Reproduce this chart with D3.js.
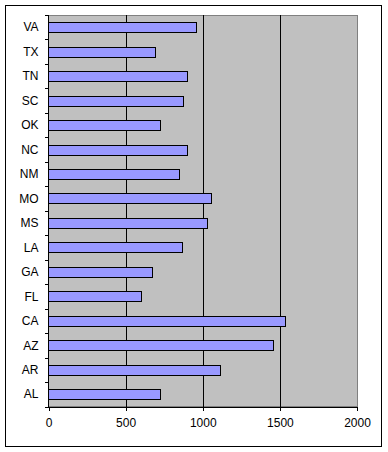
<!DOCTYPE html>
<html>
<head>
<meta charset="utf-8">
<script src="https://cdn.jsdelivr.net/npm/d3@7"></script>
<style>
  body { margin: 0; background: #fff; }
  svg text { font-family: "Liberation Sans", Arial, sans-serif; font-size: 12px; fill: #000; }
</style>
</head>
<body>
<svg id="chart"></svg>
<script>
// states top to bottom
const states = ["VA", "TX", "TN", "SC", "OK", "NC", "NM", "MO", "MS", "LA", "GA", "FL", "CA", "AZ", "AR", "AL"];
const values = [959, 691, 901, 875, 726, 901, 849, 1056, 1030, 868, 674, 603, 1539, 1457, 1114, 726];
const xTicks = [0, 500, 1000, 1500, 2000];

const width = 388, height = 452;
const margin = {top: 15, right: 31, bottom: 45.5, left: 48.5};
const drawWidth = width - margin.left - margin.right;
const drawHeight = height - margin.top - margin.bottom;

const svg = d3.select("#chart")
    .attr("width", width)
    .attr("height", height)
    .attr("shape-rendering", "crispEdges");

// outer frame
svg.append("rect")
    .attr("x", 5.5).attr("y", 5.5)
    .attr("width", 376).attr("height", 441)
    .attr("fill", "#fff")
    .attr("stroke", "#000");

const x = d3.scaleLinear().domain([0, 2000]).range([0, drawWidth]);
const y = d3.scaleBand().domain(states).range([0, drawHeight]).paddingInner(0.59).paddingOuter(0.295);
const yBands = d3.scaleBand().domain(states).range([0, drawHeight]);

const g = svg.append("g")
    .attr("transform", "translate(" + margin.left + "," + margin.top + ")");

// plot background
g.append("rect")
    .attr("width", drawWidth).attr("height", drawHeight)
    .attr("fill", "#c0c0c0")
    .attr("stroke", "#808080");

// gridlines
g.selectAll(".grid")
    .data(xTicks.filter(d => d > 0 && d < 2000))
    .enter().append("line")
    .attr("x1", d => Math.round(x(d)) + 0.5).attr("x2", d => Math.round(x(d)) + 0.5)
    .attr("y1", 0).attr("y2", drawHeight)
    .attr("stroke", "#000");

// bars
g.selectAll(".bar")
    .data(states)
    .enter().append("rect")
    .attr("x", 0)
    .attr("y", d => Math.round(y(d)) + 0.5)
    .attr("width", (d, i) => Math.round(x(values[i])))
    .attr("height", Math.round(y.bandwidth()))
    .attr("fill", "#9999ff")
    .attr("stroke", "#000");

// y axis
const yAxis = g.append("g");
yAxis.append("line")
    .attr("x1", 0).attr("x2", 0).attr("y1", 0).attr("y2", drawHeight)
    .attr("stroke", "#000");
yAxis.selectAll(".tk")
    .data(states.concat(["_end"]))
    .enter().append("line")
    .attr("x1", -4).attr("x2", 0)
    .attr("y1", (d, i) => Math.round(i * yBands.step()) + 0.5)
    .attr("y2", (d, i) => Math.round(i * yBands.step()) + 0.5)
    .attr("stroke", "#000");
yAxis.selectAll("text")
    .data(states)
    .enter().append("text")
    .attr("x", -10)
    .attr("y", d => yBands(d) + yBands.bandwidth() / 2)
    .attr("dy", "0.35em")
    .attr("text-anchor", "end")
    .attr("shape-rendering", "auto")
    .text(d => d);

// x axis
const xAxis = d3.axisBottom(x).tickValues(xTicks).tickFormat(d3.format("d"))
    .tickSize(4).tickSizeOuter(0).tickPadding(8);
g.append("g")
    .attr("transform", "translate(0," + drawHeight + ")")
    .call(xAxis)
    .call(a => a.select(".domain").attr("stroke", "#000"))
    .call(a => a.selectAll("text").attr("font-size", null).attr("font-family", null));
</script>
</body>
</html>
